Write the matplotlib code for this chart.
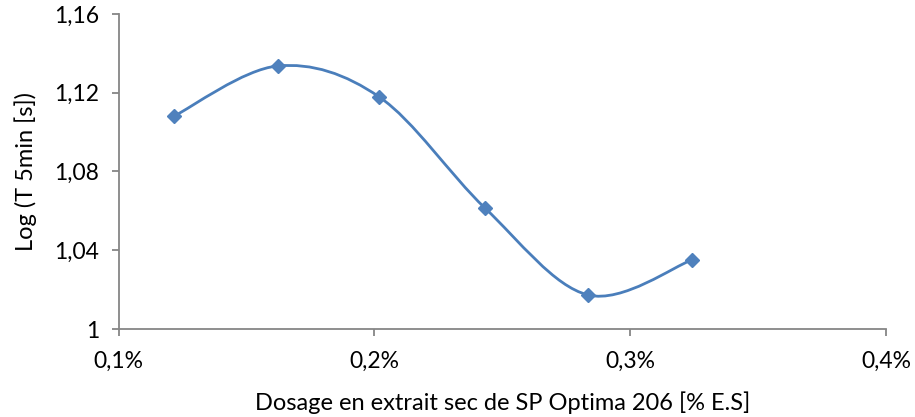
import numpy as np
import matplotlib
matplotlib.use("Agg")
from matplotlib import pyplot as plt
from matplotlib.path import Path
from matplotlib.patches import PathPatch
from matplotlib.ticker import FuncFormatter

plt.rcParams['font.family'] = ['Lato', 'DejaVu Sans']

# data
dosage = [0.1218, 0.1622, 0.2020, 0.2432, 0.2835, 0.3240]
log_t5 = [1.1082, 1.1336, 1.1178, 1.0615, 1.0173, 1.0350]

line_color = '#4A7EBB'
marker_color = '#4F81BD'
axis_color = '#868686'


def smooth_path(xs, ys):
    # Excel-like smoothed line: cubic Bezier segments with Catmull-Rom tangents
    pts = np.column_stack([xs, ys])
    n = len(pts)
    verts = [pts[0]]
    codes = [Path.MOVETO]
    for i in range(n - 1):
        p0 = pts[i - 1] if i > 0 else pts[i]
        p1 = pts[i]
        p2 = pts[i + 1]
        p3 = pts[i + 2] if i + 2 < n else pts[i + 1]
        c1 = p1 + (p2 - p0) / 6.0
        c2 = p2 - (p3 - p1) / 6.0
        verts += [c1, c2, p2]
        codes += [Path.CURVE4] * 3
    return Path(verts, codes)


fig = plt.figure(figsize=(9.15, 4.17), dpi=100)
ax = fig.add_axes([118.5 / 915, (417 - 329) / 417, (886 - 118.5) / 915, (329 - 14) / 417])

ax.add_patch(PathPatch(smooth_path(dosage, log_t5), facecolor='none',
                       edgecolor=line_color, linewidth=2.0, zorder=2))
ax.plot(dosage, log_t5, linestyle='none', marker='D', markersize=7.5,
        color=marker_color, zorder=3)

ax.set_xlim(0.1, 0.4)
ax.set_ylim(1.0, 1.16)
ax.set_xticks([0.1, 0.2, 0.3, 0.4])
ax.set_yticks([1.0, 1.04, 1.08, 1.12, 1.16])
ax.xaxis.set_major_formatter(FuncFormatter(lambda v, p: f"{v:.1f}%".replace('.', ',')))
ax.yaxis.set_major_formatter(FuncFormatter(
    lambda v, p: '1' if abs(v - 1) < 1e-9 else f"{v:.2f}".replace('.', ',')))

for side in ['top', 'right']:
    ax.spines[side].set_visible(False)
for side in ['left', 'bottom']:
    ax.spines[side].set_color(axis_color)
    ax.spines[side].set_linewidth(1.3)
ax.tick_params(axis='both', colors=axis_color, length=5, width=1.3, direction='out',
               labelsize=16.5, labelcolor='black')
ax.tick_params(axis='x', pad=11)
ax.tick_params(axis='y', pad=9)

ax.set_xlabel('Dosage en extrait sec de SP Optima 206 [% E.S]', fontsize=17)
ax.set_ylabel('Log (T 5min [s])', fontsize=17)
ax.yaxis.set_label_coords(-81 / 767.5, 0.5)
ax.xaxis.set_label_coords(0.5, -62 / 315)

fig.savefig('out.png', dpi=100)
